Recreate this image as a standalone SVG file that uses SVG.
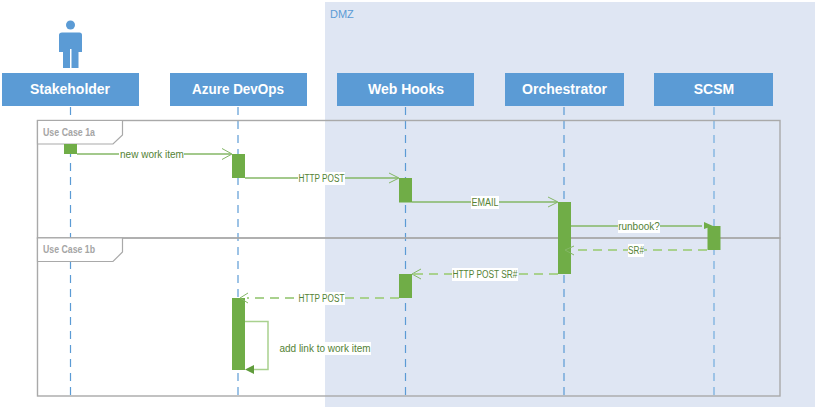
<svg xmlns="http://www.w3.org/2000/svg" width="817" height="409" viewBox="0 0 817 409">
<style>
text{font-family:"Liberation Sans",Arial,sans-serif}
.h{fill:#5b9bd5}
.ht{fill:#fff;font-size:14px;font-weight:bold;text-anchor:middle}
.ll{stroke:#5b9bd5;stroke-width:1.2;stroke-dasharray:8 6;fill:none}
.ll2{stroke:#9dc3e6;stroke-width:2;stroke-dasharray:8 6;fill:none}
.frame{fill:none;stroke:#a9a9a9;stroke-width:1.4}
.tab{fill:#fff;stroke:#a9a9a9;stroke-width:1.2}
.ft{fill:#a5a5a5;font-size:10px;font-weight:bold}
.act{fill:#70ad47}
.msg{stroke:#84b766;stroke-width:1.4;fill:none}
.ret{stroke:#a9d18e;stroke-width:2;stroke-dasharray:9 6;fill:none}
.ah{stroke:#84b766;stroke-width:1;fill:none}
.lbg{fill:#fff}
.lt{fill:#548235;font-size:10px;text-anchor:middle}
</style>
<rect x="325" y="2" width="490" height="405" fill="#dfe6f3"/>
<text x="330" y="18" font-size="11" fill="#5b9bd5">DMZ</text>
<g id="lifelines">
<path class="ll" d="M70.500 107V400"/>
<path class="ll2" d="M238 107V400"/>
<path class="ll" d="M405.500 107V400"/>
<path class="ll" d="M564 107V400"/>
<path class="ll2" d="M714 107V400"/>
</g>
<g id="frame-1a">
<rect class="frame" x="37.500" y="120.500" width="742.500" height="117.500"/>
<path class="tab" d="M37.500 120.500H122.500V135L113 144H37.500Z"/>
<text class="ft" x="43" y="136" textLength="52" lengthAdjust="spacingAndGlyphs">Use Case 1a</text>
</g>
<g id="frame-1b">
<rect class="frame" x="37.500" y="238" width="742.500" height="158"/>
<path class="tab" d="M37.500 238H122.500V252L113 261.500H37.500Z"/>
<text class="ft" x="43" y="253" textLength="52" lengthAdjust="spacingAndGlyphs">Use Case 1b</text>
</g>
<g id="actor-stakeholder">
<circle class="h" cx="70.500" cy="25" r="4.500"/>
<path class="h" d="M62 32.500H79.500Q82 32.500 82 35V52H78.500V68H71.500V49H70V68H63V52H59V35Q59 32.500 62 32.500Z"/>
</g>
<g id="node-stakeholder"><rect class="h" x="2" y="73" width="137" height="33"/><text class="ht" x="70" y="94">Stakeholder</text></g>
<g id="node-azure"><rect class="h" x="170" y="73" width="137" height="33"/><text class="ht" x="238" y="94" textLength="92" lengthAdjust="spacingAndGlyphs">Azure DevOps</text></g>
<g id="node-webhooks"><rect class="h" x="337" y="73" width="137" height="33"/><text class="ht" x="406" y="94">Web Hooks</text></g>
<g id="node-orchestrator"><rect class="h" x="505" y="73" width="119" height="33"/><text class="ht" x="564.500" y="94">Orchestrator</text></g>
<g id="node-scsm"><rect class="h" x="654" y="73" width="119" height="33"/><text class="ht" x="714" y="94">SCSM</text></g>
<g id="activations">
<rect class="act" x="64" y="144" width="13" height="10"/>
<rect class="act" x="232" y="154" width="13" height="24"/>
<rect class="act" x="399" y="178" width="13" height="24.500"/>
<rect class="act" x="558" y="202" width="13" height="72"/>
<rect class="act" x="707.500" y="226" width="13" height="24"/>
<rect class="act" x="399" y="274" width="13" height="24"/>
<rect class="act" x="232" y="298" width="13" height="72"/>
</g>
<g id="connectors">
<path class="msg" d="M77 154H231"/><path class="ah" d="M222 148.500L232 154L222 159.500"/>
<path class="msg" d="M245 178H398"/><path class="ah" d="M389 173L399 178L389 183"/>
<path class="msg" d="M412 202H557"/><path class="ah" d="M548 197L558 202L548 207"/>
<path class="msg" d="M571 226H702"/><path d="M704 222L713 226L704 229Z" fill="#70ad47"/>
<path class="ret" d="M707 250H572"/><path class="ah" d="M574 246L565 250L574 255" stroke="#a9d18e"/>
<path class="ret" d="M558 274H414"/><path class="ah" d="M421 269L412 274L421 279"/>
<path class="ret" d="M399 298H247"/><path class="ah" d="M248 293L240 298L248 303" stroke="#a9d18e"/>
<path stroke="#a9d18e" stroke-width="1.500" fill="none" d="M245 321.500H268V369.500H254"/>
<path d="M245 369.500L254 365V374Z" fill="#609c3c"/>
</g>
<g id="labels">
<rect class="lbg" x="119" y="148" width="65" height="12"/><text class="lt" x="152" y="157.500">new work item</text>
<rect class="lbg" x="298" y="172" width="47" height="13"/><text class="lt" x="321.500" y="181.500" textLength="46" lengthAdjust="spacingAndGlyphs">HTTP POST</text>
<rect class="lbg" x="471" y="196" width="28" height="13"/><text class="lt" x="485" y="205.500" textLength="27" lengthAdjust="spacingAndGlyphs">EMAIL</text>
<rect class="lbg" x="618" y="220" width="42" height="13"/><text class="lt" x="639" y="229.500">runbook?</text>
<rect class="lbg" x="628" y="244" width="16" height="13"/><text class="lt" x="636" y="253.500" textLength="16" lengthAdjust="spacingAndGlyphs">SR#</text>
<rect class="lbg" x="452" y="268" width="66" height="13"/><text class="lt" x="485" y="277.500" textLength="65" lengthAdjust="spacingAndGlyphs">HTTP POST SR#</text>
<rect class="lbg" x="298" y="292" width="47" height="13"/><text class="lt" x="321.500" y="301.500" textLength="46" lengthAdjust="spacingAndGlyphs">HTTP POST</text>
<rect class="lbg" x="279" y="342" width="92" height="13"/><text class="lt" x="325" y="351.500">add link to work item</text>
</g>
</svg>
